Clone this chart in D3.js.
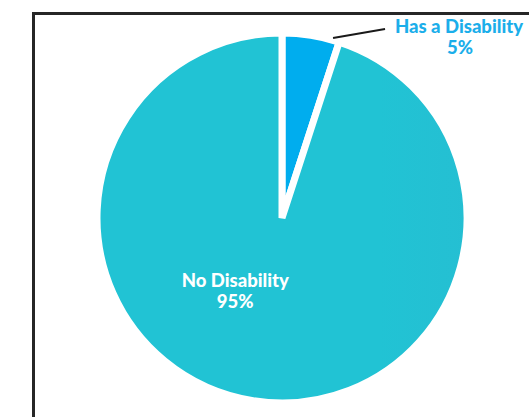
<!DOCTYPE html>
<html>
<head>
<meta charset="utf-8">
<script src="https://cdn.jsdelivr.net/npm/d3@7"></script>
<style>
  html, body { margin: 0; padding: 0; background: #fff; }
  svg { display: block; }
  text { font-family: Lato, "Open Sans", sans-serif; font-weight: 900; }
</style>
</head>
<body>
<svg id="chart" width="529" height="417"></svg>
<script>
// Disability status split
const categories = ["Has a Disability", "No Disability"];
const values = [5, 95];
const valueLabels = ["5%", "95%"];
const sliceColors = ["#00ADEE", "url(#tealFill)"];

const width = 529, height = 417;
const cx = 282, cy = 218, radius = 185;

const svg = d3.select("#chart");

// Soft left-to-right shading across the large slice
const defs = svg.append("defs");
const grad = defs.append("linearGradient")
  .attr("id", "tealFill")
  .attr("gradientUnits", "userSpaceOnUse")
  .attr("x1", cx - radius).attr("y1", cy)
  .attr("x2", cx + radius).attr("y2", cy);
grad.append("stop").attr("offset", "0%").attr("stop-color", "#21C3D4");
grad.append("stop").attr("offset", "100%").attr("stop-color", "#30B2CE");

// Frame around the chart area
svg.append("rect")
  .attr("x", 33.5).attr("y", 13.5)
  .attr("width", 560).attr("height", 460)
  .attr("fill", "none")
  .attr("stroke", "#262626")
  .attr("stroke-width", 3);

const pie = d3.pie().sort(null).value(d => d)
  .startAngle(0).endAngle(2 * Math.PI);
const arcs = pie(values);
const arc = d3.arc().innerRadius(0).outerRadius(radius);

const g = svg.append("g").attr("transform", `translate(${cx},${cy})`);

g.selectAll("path.slice")
  .data(arcs)
  .join("path")
  .attr("class", "slice")
  .attr("d", arc)
  .attr("fill", (d, i) => sliceColors[i])
  .attr("stroke", "#fff")
  .attr("stroke-width", 7)
  .attr("stroke-linejoin", "miter");

// Outside label with leader line for the small slice
const small = arcs[0];
const leadAngle = small.startAngle + (small.endAngle - small.startAngle) * 0.88;
const p0 = d3.pointRadial(leadAngle, radius + 2);
const p1 = [p0[0] + 52, p0[1] - 9];
g.append("line")
  .attr("x1", p0[0]).attr("y1", p0[1])
  .attr("x2", p1[0]).attr("y2", p1[1])
  .attr("stroke", "#1a1a1a")
  .attr("stroke-width", 2);

const outLabel = g.append("text")
  .attr("text-anchor", "middle")
  .attr("fill", "#1BAEEA")
  .attr("font-size", 18.5);
outLabel.append("tspan").attr("x", p1[0] + 74).attr("y", -185).text(categories[0]);
outLabel.append("tspan").attr("x", p1[0] + 75).attr("y", -164).text(valueLabels[0]);

// Inside label for the large slice
const big = arcs[1];
const inPos = d3.pointRadial(big.startAngle + (big.endAngle - big.startAngle) * 0.57, 86);
const inLabel = g.append("text")
  .attr("text-anchor", "middle")
  .attr("fill", "#fff")
  .attr("font-size", 18.5);
inLabel.append("tspan").attr("x", inPos[0]).attr("y", inPos[1] - 3).text(categories[1]);
inLabel.append("tspan").attr("x", inPos[0]).attr("y", inPos[1] + 18).text(valueLabels[1]);
</script>
</body>
</html>
